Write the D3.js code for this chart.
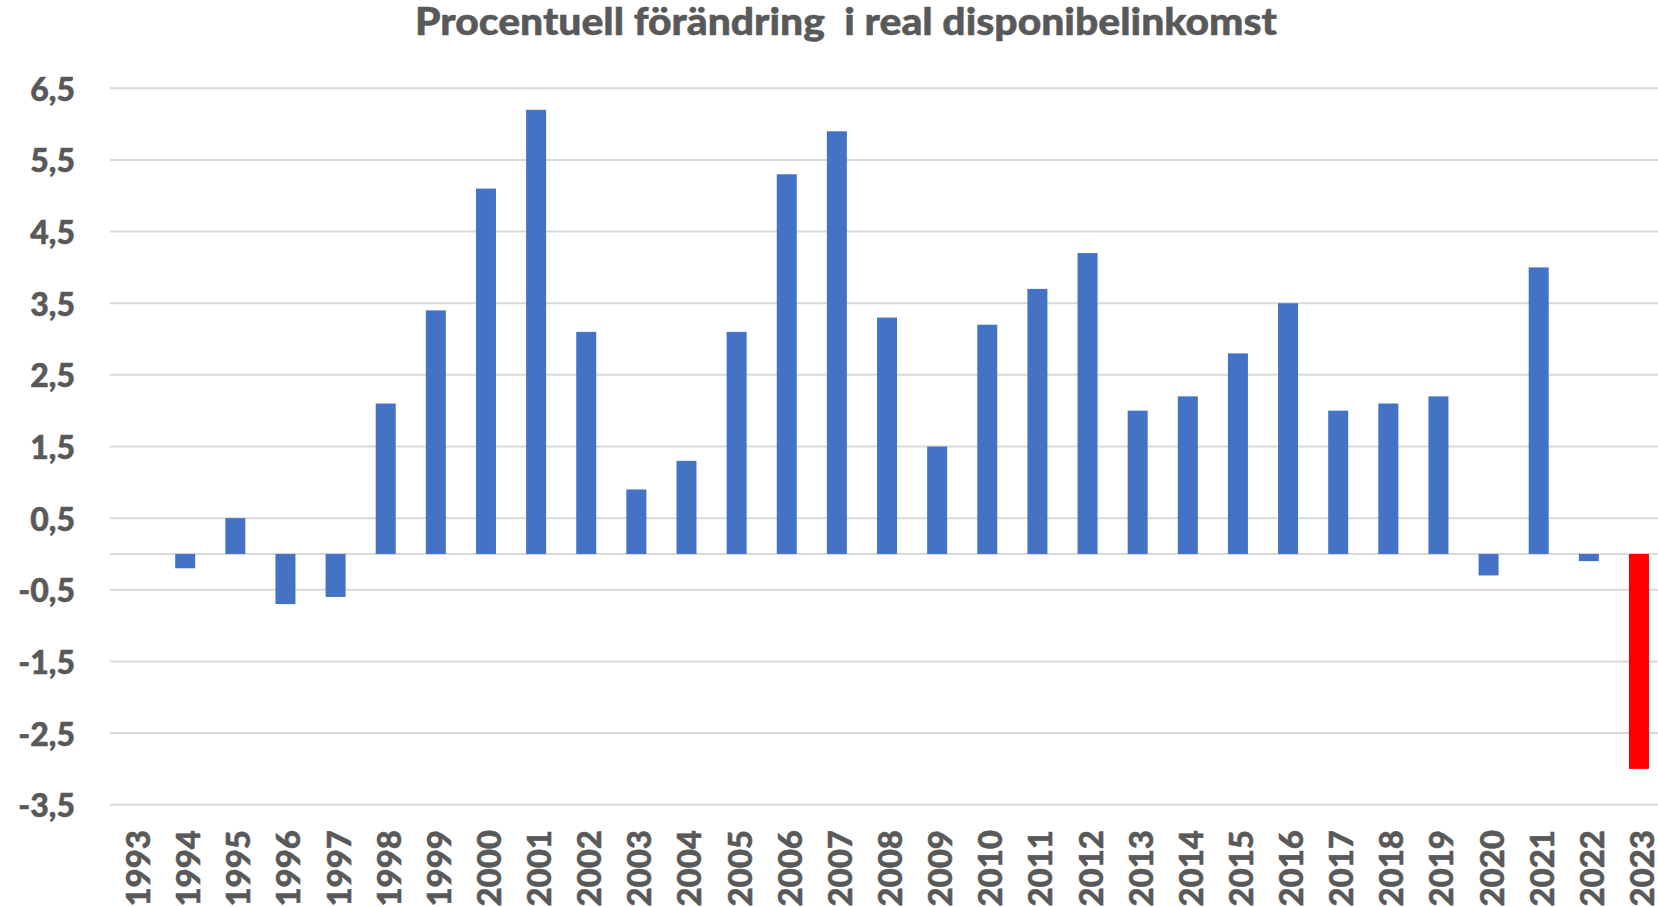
<!DOCTYPE html>
<html>
<head>
<meta charset="utf-8">
<script src="https://cdn.jsdelivr.net/npm/d3@7"></script>
<style>
  body { margin: 0; background: #fff; }
  text { font-family: Lato, "Open Sans", sans-serif; font-weight: 900; fill: #595959;
         stroke: #595959; stroke-width: 0.5px; white-space: pre; }
</style>
</head>
<body>
<div id="chart"></div>
<script>
(function() {
  // data
  var years = [1993, 1994, 1995, 1996, 1997, 1998, 1999, 2000, 2001, 2002,
    2003, 2004, 2005, 2006, 2007, 2008, 2009, 2010, 2011, 2012,
    2013, 2014, 2015, 2016, 2017, 2018, 2019, 2020, 2021, 2022, 2023];
  var change = [null, -0.2, 0.5, -0.7, -0.6, 2.1, 3.4, 5.1, 6.2, 3.1,
    0.9, 1.3, 3.1, 5.3, 5.9, 3.3, 1.5, 3.2, 3.7, 4.2,
    2.0, 2.2, 2.8, 3.5, 2.0, 2.1, 2.2, -0.3, 4.0, -0.1, -3.0];
  var yTicks = [6.5, 5.5, 4.5, 3.5, 2.5, 1.5, 0.5, -0.5, -1.5, -2.5, -3.5];
  var title = "Procentuell förändring  i real disponibelinkomst";
  var highlightYear = 2023;

  var width = 1658;
  var height = 907;
  var left = 110;
  var step = 50.13;

  var svg = d3.select("#chart")
    .append("svg")
    .attr("width", width)
    .attr("height", height);

  var x = d3.scaleBand()
    .domain(years)
    .range([left, left + step * years.length])
    .paddingInner(0.6)
    .paddingOuter(0.3);

  var y = d3.scaleLinear()
    .domain([-3.5, 6.5])
    .range([804.7, 88.3]);

  // gridlines
  svg.append("g")
    .selectAll("line")
    .data(yTicks)
    .enter()
    .append("line")
    .attr("x1", left)
    .attr("x2", width)
    .attr("y1", function(d) { return y(d); })
    .attr("y2", function(d) { return y(d); })
    .attr("stroke", "#d9d9d9")
    .attr("stroke-width", 2);

  // zero axis line
  svg.append("line")
    .attr("x1", left)
    .attr("x2", width)
    .attr("y1", y(0))
    .attr("y2", y(0))
    .attr("stroke", "#d9d9d9")
    .attr("stroke-width", 2);

  // y labels
  svg.append("g")
    .selectAll("text")
    .data(yTicks)
    .enter()
    .append("text")
    .attr("x", 75)
    .attr("y", function(d) { return y(d); })
    .attr("text-anchor", "end")
    .attr("dominant-baseline", "central")
    .style("font-size", "32px")
    .text(function(d) { return String(d).replace(".", ","); });

  // bars
  var bw = 20;
  svg.append("g")
    .selectAll("rect")
    .data(years.filter(function(d, i) { return change[i] !== null; }))
    .enter()
    .append("rect")
    .attr("x", function(d) { return x(d) + x.bandwidth() / 2 - bw / 2; })
    .attr("width", bw)
    .attr("y", function(d) { var v = change[years.indexOf(d)]; return y(Math.max(0, v)); })
    .attr("height", function(d) { var v = change[years.indexOf(d)]; return Math.abs(y(v) - y(0)); })
    .attr("fill", function(d) { return d === highlightYear ? "#ff0000" : "#4472c4"; });

  // x labels, rotated
  svg.append("g")
    .selectAll("text")
    .data(years)
    .enter()
    .append("text")
    .attr("transform", function(d) {
      return "translate(" + (x(d) + x.bandwidth() / 2 + 2) + ",830) rotate(-90)";
    })
    .attr("text-anchor", "end")
    .attr("dominant-baseline", "central")
    .style("font-size", "33px")
    .text(function(d) { return d; });

  // title
  svg.append("text")
    .attr("x", 846)
    .attr("y", 35)
    .attr("text-anchor", "middle")
    .attr("textLength", 862)
    .attr("lengthAdjust", "spacingAndGlyphs")
    .style("font-size", "37px")
    .text(title);
})();
</script>
</body>
</html>
